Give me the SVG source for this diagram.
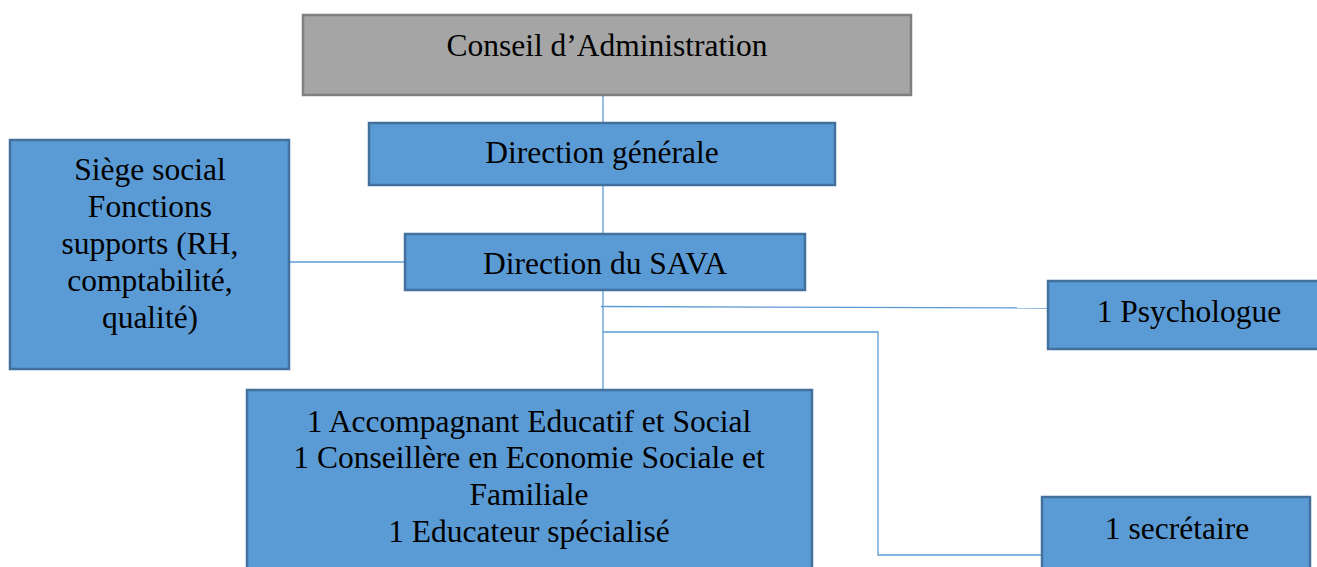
<svg xmlns="http://www.w3.org/2000/svg" width="1317" height="567" viewBox="0 0 1317 567">
<style>
.box{fill:#5b9bd5;stroke:#41719c;stroke-width:2.5}
.gray{fill:#a5a5a5;stroke:#7f7f7f;stroke-width:2.5}
.t{font-family:"Liberation Serif","Times New Roman",serif;font-size:31.5px;fill:#000;text-anchor:middle}
.c{fill:none;stroke:#5b9bd5;stroke-width:1.3}
</style>
<rect width="1317" height="567" fill="#fff"/>
<g id="connectors">
<line class="c" x1="603" y1="95" x2="603" y2="123"/>
<line class="c" x1="603" y1="185" x2="603" y2="234"/>
<line class="c" x1="603" y1="290" x2="603" y2="390"/>
<line class="c" x1="289" y1="262" x2="405" y2="262"/>
<line class="c" x1="601" y1="306.5" x2="1048" y2="308"/>
<polyline class="c" points="603,332 878,332 878,555 1042,555"/>
</g>
<g id="conseil">
<rect class="gray" x="303" y="15" width="608" height="80"/>
<text class="t" x="607" y="56">Conseil d’Administration</text>
</g>
<g id="direction-generale">
<rect class="box" x="369" y="123" width="466" height="62"/>
<text class="t" x="602" y="163">Direction générale</text>
</g>
<g id="siege">
<rect class="box" x="10" y="140" width="279" height="229"/>
<text class="t" x="150" y="180">Siège social</text>
<text class="t" x="150" y="217">Fonctions</text>
<text class="t" x="150" y="254">supports (RH,</text>
<text class="t" x="150" y="291">comptabilité,</text>
<text class="t" x="150" y="328">qualité)</text>
</g>
<g id="direction-sava">
<rect class="box" x="405" y="234" width="400" height="56"/>
<text class="t" x="605" y="274">Direction du SAVA</text>
</g>
<g id="psychologue">
<rect class="box" x="1048" y="281" width="272" height="68"/>
<text class="t" x="1189" y="322">1 Psychologue</text>
</g>
<g id="equipe">
<rect class="box" x="247" y="390" width="565" height="180"/>
<text class="t" x="529" y="432">1 Accompagnant Educatif et Social</text>
<text class="t" x="529" y="468">1 Conseillère en Economie Sociale et</text>
<text class="t" x="529" y="505">Familiale</text>
<text class="t" x="529" y="542">1 Educateur spécialisé</text>
</g>
<g id="secretaire">
<rect class="box" x="1042" y="497" width="268" height="73"/>
<text class="t" x="1177" y="539">1 secrétaire</text>
</g>
</svg>
